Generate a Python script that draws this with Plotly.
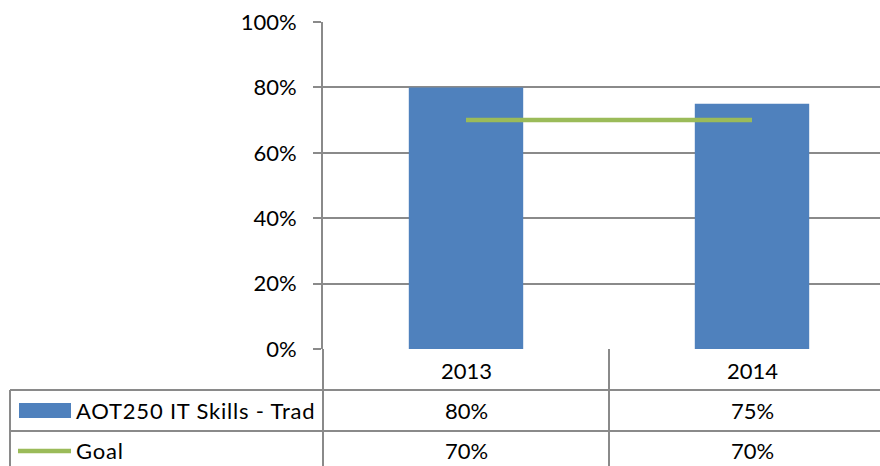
import plotly.graph_objects as go

categories = ["2013", "2014"]
skills_values = [0.80, 0.75]
goal_values = [0.70, 0.70]
series_names = ["AOT250 IT Skills - Trad", "Goal"]
y_ticks = [0, 0.2, 0.4, 0.6, 0.8, 1.0]

W, H = 880, 466
plot_left, plot_top, plot_bottom = 323, 22, 349
grid_col = "#8A8A8A"
blue = "#4F81BD"
green = "#9BBB59"
font_family = "Lato, 'Open Sans', sans-serif"
fsize = 22

def px(x):
    return x / W

def py(y):
    return (plot_bottom - y) / (plot_bottom - plot_top)

fig = go.Figure()
fig.add_trace(go.Bar(x=categories, y=skills_values, width=0.4, marker=dict(color=blue, line=dict(width=0)),
                     name=series_names[0], showlegend=False))
fig.add_trace(go.Scatter(x=categories, y=goal_values, mode="lines", line=dict(color=green, width=4.5),
                         name=series_names[1], showlegend=False))

shapes = []
lw = 2
def line(x0, y0, x1, y1):
    shapes.append(dict(type="line", xref="paper", yref="paper", x0=px(x0), y0=py(y0), x1=px(x1), y1=py(y1),
                       line=dict(color=grid_col, width=lw), layer="above"))

# table lines
line(10, 390, 880, 390)
line(10, 431, 880, 431)
line(10, 390, 10, 470)
line(323, 349, 323, 470)
line(609, 349, 609, 470)

# legend keys
shapes.append(dict(type="rect", xref="paper", yref="paper", x0=px(19), x1=px(71), y0=py(418), y1=py(403),
                   fillcolor=blue, line=dict(width=0)))
shapes.append(dict(type="line", xref="paper", yref="paper", x0=px(18), x1=px(71), y0=py(451), y1=py(451),
                   line=dict(color=green, width=4.5)))

tfont = dict(size=fsize, color="black", family=font_family)
annotations = []
# header row (categories)
for i, c in enumerate(categories):
    annotations.append(dict(x=i, y=py(370), xref="x", yref="paper", text=c, showarrow=False,
                            font=tfont, xanchor="center", yanchor="middle"))
# data rows
row_y = [410, 451]
for vals, yy, nm in [(skills_values, row_y[0], series_names[0]), (goal_values, row_y[1], series_names[1])]:
    for i, v in enumerate(vals):
        annotations.append(dict(x=i, y=py(yy), xref="x", yref="paper", text=f"{round(v*100)}%", showarrow=False,
                                font=tfont, xanchor="center", yanchor="middle"))
    annotations.append(dict(x=px(74), y=py(yy), xref="paper", yref="paper",
                            text=f"<span style='letter-spacing:0.8px'>{nm}</span>", showarrow=False,
                            font=tfont, xanchor="left", yanchor="middle"))

x_hi = (W - 466) / 286.0

fig.update_layout(
    width=W, height=H, autosize=False,
    margin=dict(l=0, r=0, t=plot_top, b=H - plot_bottom, pad=0, autoexpand=False),
    paper_bgcolor="white", plot_bgcolor="white",
    xaxis=dict(domain=[plot_left / W, 1], range=[-0.5, x_hi], type="category", showticklabels=False,
               showgrid=False, zeroline=False, showline=False, ticks="", automargin=False),
    yaxis=dict(range=[0, 1], tickvals=y_ticks, tickformat=".0%", showgrid=True, gridcolor=grid_col, gridwidth=lw,
               zeroline=False, showline=True, linecolor=grid_col, linewidth=lw, ticks="outside", ticklen=8,
               tickcolor=grid_col, tickwidth=lw, ticklabelstandoff=12, automargin=False,
               tickfont=tfont),
    shapes=shapes, annotations=annotations,
    showlegend=False,
)

fig.write_html("out.html", config={"displayModeBar": False},
               post_script="document.body.style.margin='0';document.body.style.overflow='hidden';")
